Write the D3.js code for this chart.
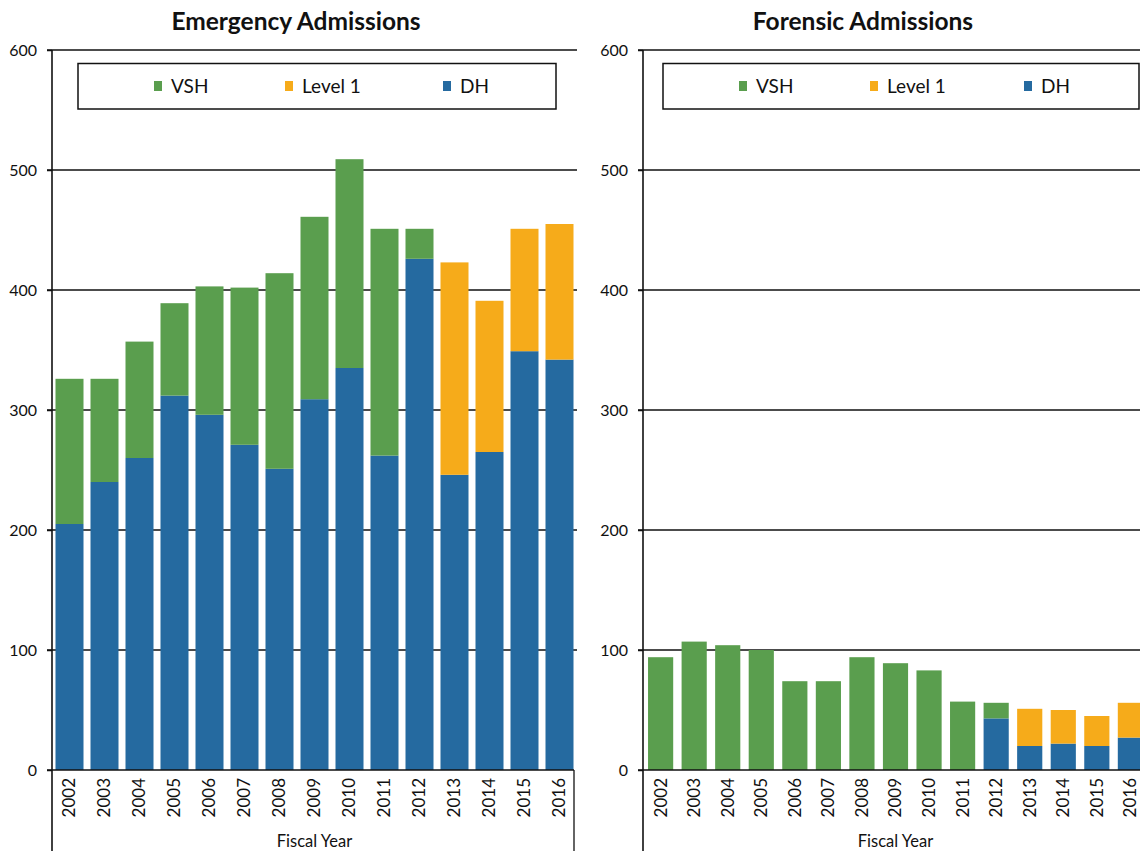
<!DOCTYPE html>
<html>
<head>
<meta charset="utf-8">
<script src="https://cdn.jsdelivr.net/npm/d3@7"></script>
<style>
  html, body { margin: 0; padding: 0; background: #fff; }
  svg { display: block; font-family: Lato, "Open Sans", sans-serif; }
</style>
</head>
<body>
<svg id="chart" width="1140" height="851"></svg>
<script>
const years = ["2002","2003","2004","2005","2006","2007","2008","2009","2010","2011","2012","2013","2014","2015","2016"];
const seriesNames = ["DH", "Level 1", "VSH"];
const legendOrder = ["VSH", "Level 1", "DH"];
const yTicks = [0, 100, 200, 300, 400, 500, 600];

// Emergency Admissions
const emergencyDH     = [205, 240, 260, 312, 296, 271, 251, 309, 335, 262, 426, 246, 265, 349, 342];
const emergencyLevel1 = [0, 0, 0, 0, 0, 0, 0, 0, 0, 0, 0, 177, 126, 102, 113];
const emergencyVSH    = [121, 86, 97, 77, 107, 131, 163, 152, 174, 189, 25, 0, 0, 0, 0];

// Forensic Admissions
const forensicDH     = [0, 0, 0, 0, 0, 0, 0, 0, 0, 0, 43, 20, 22, 20, 27];
const forensicLevel1 = [0, 0, 0, 0, 0, 0, 0, 0, 0, 0, 0, 31, 28, 25, 29];
const forensicVSH    = [94, 107, 104, 100, 74, 74, 94, 89, 83, 57, 13, 0, 0, 0, 0];

const colors = { "VSH": "#5a9e4e", "Level 1": "#f6ab1a", "DH": "#256aa0" };

const svg = d3.select("#chart");

function drawPanel(cfg) {
  const g = svg.append("g");
  const y = d3.scaleLinear().domain([0, 600]).range([770, 50]);
  const x = d3.scaleBand().domain(years).range([cfg.x0, cfg.x1])
    .paddingInner(cfg.pi).paddingOuter(cfg.po);

  // title
  g.append("text").attr("x", cfg.titleX).attr("y", 30)
    .attr("text-anchor", "middle").attr("font-weight", "bold")
    .attr("font-size", 24.5).attr("fill", "#111").text(cfg.title);

  // gridlines
  g.append("g").selectAll("line").data(yTicks.filter(d => d > 0)).join("line")
    .attr("x1", cfg.x0 - 5).attr("x2", cfg.gridEnd)
    .attr("y1", d => y(d)).attr("y2", d => y(d))
    .attr("stroke", "#111").attr("stroke-width", 1.5);

  // stacked bars
  const rows = years.map((yr, i) => ({
    year: yr, "DH": cfg.dh[i], "Level 1": cfg.l1[i], "VSH": cfg.vsh[i]
  }));
  const stack = d3.stack().keys(seriesNames)(rows);
  g.append("g").selectAll("g").data(stack).join("g")
    .attr("fill", d => colors[d.key])
    .selectAll("rect").data(d => d.filter(s => s[1] - s[0] > 0)).join("rect")
    .attr("x", d => x(d.data.year))
    .attr("width", x.bandwidth())
    .attr("y", d => y(d[1]))
    .attr("height", d => y(d[0]) - y(d[1]));

  // y axis
  const yAxis = d3.axisLeft(y).tickValues(yTicks).tickSize(5).tickPadding(10);
  const ya = g.append("g").attr("transform", `translate(${cfg.x0},0)`).call(yAxis);
  ya.select(".domain").remove();
  ya.selectAll(".tick line").attr("stroke", "#111").attr("stroke-width", 1.5);
  ya.selectAll(".tick text").attr("font-size", 16).attr("fill", "#111")
    .attr("font-family", "Lato, sans-serif");
  g.append("line").attr("x1", cfg.x0).attr("x2", cfg.x0).attr("y1", 50).attr("y2", 851)
    .attr("stroke", "#111").attr("stroke-width", 1.6);

  // x axis
  const xAxis = d3.axisBottom(x).tickSize(0).tickPadding(0);
  const xa = g.append("g").attr("transform", "translate(0,770)").call(xAxis);
  xa.select(".domain").remove();
  xa.selectAll(".tick text")
    .attr("transform", "rotate(-90)")
    .attr("text-anchor", "end")
    .attr("dy", "0.35em")
    .attr("x", -8).attr("y", 0)
    .attr("font-size", 17).attr("fill", "#111")
    .attr("font-family", "Lato, sans-serif");
  g.append("line").attr("x1", cfg.x0 - 5).attr("x2", cfg.boxRight).attr("y1", 770).attr("y2", 770)
    .attr("stroke", "#111").attr("stroke-width", 1.6);
  if (cfg.boxRight < 1140) {
    g.append("line").attr("x1", cfg.boxRight).attr("x2", cfg.boxRight).attr("y1", 770).attr("y2", 851)
      .attr("stroke", "#111").attr("stroke-width", 1.3);
  }

  g.append("text").attr("x", (cfg.x0 + cfg.x1) / 2).attr("y", 847)
    .attr("text-anchor", "middle").attr("font-size", 16.5).attr("fill", "#111")
    .text("Fiscal Year");

  // legend
  const lg = g.append("g");
  lg.append("rect").attr("x", cfg.legX).attr("y", 63.5).attr("width", cfg.legW).attr("height", 45.5)
    .attr("fill", "#fff").attr("stroke", "#111").attr("stroke-width", 1.5);
  legendOrder.forEach((name, i) => {
    const lx = cfg.legItems[i];
    lg.append("rect").attr("x", lx).attr("y", 81).attr("width", 8).attr("height", 10)
      .attr("fill", colors[name]);
    lg.append("text").attr("x", lx + 17).attr("y", 93)
      .attr("font-size", 19).attr("fill", "#111").text(name);
  });
}

drawPanel({
  title: "Emergency Admissions", titleX: 296,
  x0: 52, x1: 577, pi: 0.2, po: 0.1, gridEnd: 577, boxRight: 574,
  dh: emergencyDH, l1: emergencyLevel1, vsh: emergencyVSH,
  legX: 78, legW: 478, legItems: [154, 285, 443]
});

drawPanel({
  title: "Forensic Admissions", titleX: 863,
  x0: 643, x1: 1148, pi: 0.25, po: 0.15, gridEnd: 1140, boxRight: 1200,
  dh: forensicDH, l1: forensicLevel1, vsh: forensicVSH,
  legX: 663, legW: 476, legItems: [739, 870, 1024]
});
</script>
</body>
</html>
